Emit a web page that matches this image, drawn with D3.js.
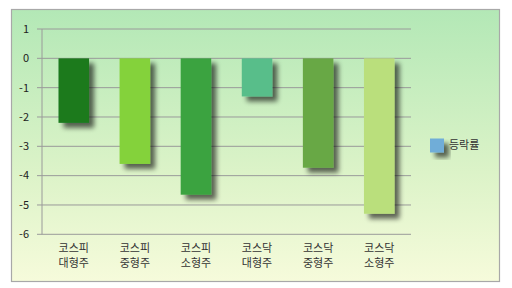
<!DOCTYPE html>
<html>
<head>
<meta charset="utf-8">
<script src="https://cdn.jsdelivr.net/npm/d3@7"></script>
<style>
  body { margin: 0; background: #fff; }
  svg { display: block; font-family: "Noto Sans CJK KR", "Noto Sans", sans-serif; }
</style>
</head>
<body>
<div id="vue"></div>
<script>
// données
var categories = ["코스피\n대형주", "코스피\n중형주", "코스피\n소형주", "코스닥\n대형주", "코스닥\n중형주", "코스닥\n소형주"];
var values = [-2.2, -3.6, -4.65, -1.3, -3.73, -5.3];
var barColors = ["#1c7a1f", "#84d23a", "#3aa33f", "#58be8a", "#67a845", "#badf7b"];
var yTicks = [1, 0, -1, -2, -3, -4, -5, -6];
var seriesName = "등락률";

var width = 512, height = 288;
var plot = {left: 42, right: 411, top: 29, bottom: 234.3};

var svg = d3.select("#vue").append("svg")
  .attr("width", width)
  .attr("height", height);

var defs = svg.append("defs");

// fond dégradé
var grad = defs.append("linearGradient")
  .attr("id", "bg").attr("x1", 0).attr("y1", 0).attr("x2", 0).attr("y2", 1);
grad.append("stop").attr("offset", "0%").attr("stop-color", "#b3e8b6");
grad.append("stop").attr("offset", "60%").attr("stop-color", "#dcf3c8");
grad.append("stop").attr("offset", "100%").attr("stop-color", "#f6fbdb");

// ombre portée
var filt = defs.append("filter").attr("id", "shadow")
  .attr("x", "-30%").attr("y", "-30%").attr("width", "180%").attr("height", "180%");
filt.append("feGaussianBlur").attr("in", "SourceAlpha").attr("stdDeviation", 2.5).attr("result", "blur");
filt.append("feOffset").attr("in", "blur").attr("dx", 5).attr("dy", 5).attr("result", "off");
filt.append("feComponentTransfer").attr("in", "off").attr("result", "off2")
  .append("feFuncA").attr("type", "linear").attr("slope", 0.6);
var merge = filt.append("feMerge");
merge.append("feMergeNode").attr("in", "off2");
merge.append("feMergeNode").attr("in", "SourceGraphic");

svg.append("rect")
  .attr("x", 11.5).attr("y", 9.5).attr("width", 488).attr("height", 272)
  .attr("fill", "url(#bg)")
  .attr("stroke", "#a8a8a8").attr("stroke-width", 1.2);

var x = d3.scaleBand().domain(categories).range([plot.left, plot.right]).paddingInner(0.5).paddingOuter(0.27);
var y = d3.scaleLinear().domain([-6, 1]).range([plot.bottom, plot.top]);

// grille
svg.append("g").selectAll("line")
  .data(yTicks)
  .enter().append("line")
  .attr("x1", plot.left - 5).attr("x2", plot.right)
  .attr("y1", function (d) { return y(d); })
  .attr("y2", function (d) { return y(d); })
  .attr("stroke", "#9a9a9a").attr("stroke-width", 1);

svg.append("line")
  .attr("x1", plot.left).attr("x2", plot.left)
  .attr("y1", plot.top).attr("y2", plot.bottom)
  .attr("stroke", "#9a9a9a");

// axe y
svg.append("g").selectAll("text")
  .data(yTicks)
  .enter().append("text")
  .attr("x", 29)
  .attr("y", function (d) { return y(d); })
  .attr("dy", "0.35em")
  .attr("text-anchor", "end")
  .attr("font-size", 11)
  .attr("fill", "#222")
  .text(function (d) { return d; });

// barres
svg.append("g").selectAll("rect")
  .data(values)
  .enter().append("rect")
  .attr("x", function (d, i) { return x(categories[i]); })
  .attr("y", y(0))
  .attr("width", x.bandwidth())
  .attr("height", function (d) { return y(d) - y(0); })
  .attr("fill", function (d, i) { return barColors[i]; })
  .attr("filter", "url(#shadow)");

// étiquettes x
var xl = svg.append("g").selectAll("text")
  .data(categories)
  .enter().append("text")
  .attr("text-anchor", "middle")
  .attr("font-size", 11)
  .attr("fill", "#333")
  .attr("x", function (d) { return x(d) + x.bandwidth() / 2; })
  .attr("y", 252);
xl.each(function (d) {
  var t = d3.select(this);
  d.split("\n").forEach(function (line, j) {
    t.append("tspan")
      .attr("x", t.attr("x"))
      .attr("dy", j === 0 ? 0 : 15)
      .text(line);
  });
});

// légende
svg.append("rect")
  .attr("x", 430).attr("y", 138.5).attr("width", 14).attr("height", 14)
  .attr("fill", "#6fadd8")
  .attr("filter", "url(#shadow)");
svg.append("text")
  .attr("x", 449).attr("y", 145.5).attr("dy", "0.35em")
  .attr("font-size", 11).attr("fill", "#333")
  .text(seriesName);
</script>
</body>
</html>
